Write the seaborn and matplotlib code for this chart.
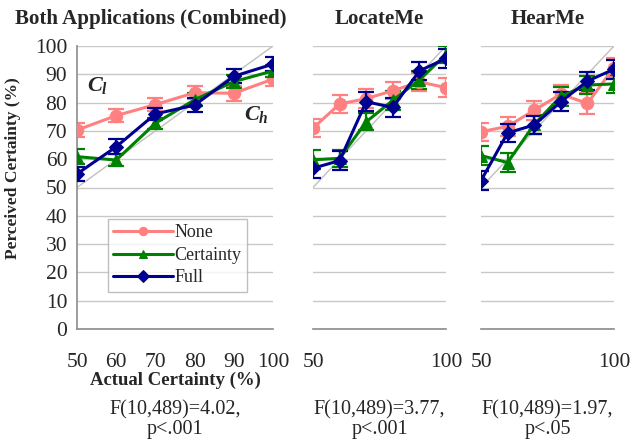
import numpy as np
import pandas as pd
import matplotlib
matplotlib.use("Agg")
import matplotlib.pyplot as plt
import seaborn as sns

actual = [50, 60, 70, 80, 90, 100]
conditions = ["None", "Certainty", "Full"]
panels = ["Both Applications (Combined)", "LocateMe", "HearMe"]
stats = ["F(10,489)=4.02,\np<.001", "F(10,489)=3.77,\np<.001", "F(10,489)=1.97,\np<.05"]

# perceived certainty means
combined_none = [70.3, 75.4, 79.3, 83.5, 83.3, 88.3]
combined_cert = [60.9, 59.7, 72.7, 81.0, 87.4, 91.2]
combined_full = [54.8, 64.4, 76.0, 79.1, 89.3, 93.6]
locate_none = [71.0, 79.5, 81.4, 84.2, 87.3, 85.3]
locate_cert = [59.8, 60.3, 73.2, 80.8, 88.0, 97.0]
locate_full = [56.8, 59.5, 80.3, 78.3, 91.2, 95.6]
hear_none = [69.7, 71.6, 77.3, 83.0, 79.7, 92.4]
hear_cert = [61.3, 58.8, 72.3, 82.2, 86.2, 86.6]
hear_full = [52.4, 69.3, 72.1, 80.3, 87.6, 91.8]

# error bar half-widths
combined_none_err = [2.4, 2.4, 2.4, 2.4, 2.6, 2.4]
combined_cert_err = [2.6, 2.1, 2.0, 2.3, 2.3, 2.2]
combined_full_err = [2.6, 2.6, 2.2, 2.4, 2.4, 2.4]
locate_none_err = [3.1, 3.3, 3.3, 3.0, 3.2, 3.4]
locate_cert_err = [3.4, 3.0, 3.0, 3.3, 3.3, 3.0]
locate_full_err = [3.3, 3.3, 3.3, 3.3, 3.3, 3.3]
hear_none_err = [3.2, 3.3, 3.3, 3.2, 3.7, 3.5]
hear_cert_err = [3.4, 3.3, 3.3, 3.3, 3.3, 3.3]
hear_full_err = [3.3, 3.3, 3.3, 3.3, 3.3, 3.3]

values = [
    [combined_none, combined_cert, combined_full],
    [locate_none, locate_cert, locate_full],
    [hear_none, hear_cert, hear_full],
]
errors = [
    [combined_none_err, combined_cert_err, combined_full_err],
    [locate_none_err, locate_cert_err, locate_full_err],
    [hear_none_err, hear_cert_err, hear_full_err],
]

colors = {"None": "#FF8080", "Certainty": "#008000", "Full": "#000090"}
markers = {"None": "o", "Certainty": "^", "Full": "D"}
msizes = {"None": 9, "Certainty": 8, "Full": 7}

sns.set_style("white")
plt.rcParams["font.family"] = "serif"
plt.rcParams["font.serif"] = ["Liberation Serif", "DejaVu Serif"]
plt.rcParams["mathtext.fontset"] = "custom"
plt.rcParams["mathtext.it"] = "Liberation Serif:italic:bold"
plt.rcParams["mathtext.rm"] = "Liberation Serif"

fig = plt.figure(figsize=(6.31, 4.45), dpi=100)
W, H = 631.0, 445.0
boxes = [(77, 273), (313, 446), (481, 614)]
title_x = [0.378, 0.5, 0.5]
top, bottom = 46, 329

for i in range(3):
    x0, x1 = boxes[i]
    ax = fig.add_axes([x0 / W, 1 - bottom / H, (x1 - x0) / W, (bottom - top) / H])
    rows = []
    for c, cond in enumerate(conditions):
        for a, v in zip(actual, values[i][c]):
            rows.append({"actual": a, "perceived": v, "cond": cond})
    df = pd.DataFrame(rows)

    ax.plot([50, 100], [50, 100], color="#c0c0c0", lw=1, zorder=1)
    for c, cond in enumerate(conditions):
        ax.errorbar(actual, values[i][c], yerr=errors[i][c], fmt="none",
                    ecolor=colors[cond], elinewidth=1.6, capsize=6, capthick=1.6, zorder=2 + c)
    for c, cond in enumerate(conditions):
        sns.lineplot(data=df[df["cond"] == cond], x="actual", y="perceived", ax=ax,
                     color=colors[cond], marker=markers[cond], markersize=msizes[cond],
                     markeredgecolor=colors[cond], lw=2.2, label=cond, zorder=3 + c,
                     legend=(i == 0))

    ax.set_xlim(50, 100)
    ax.set_ylim(0, 100)
    ax.set_yticks(np.arange(0, 101, 10))
    ax.set_xticks(actual)
    ax.grid(axis="y", color="#c8c8c8", lw=1)
    ax.set_axisbelow(True)
    for s in ["top", "right"]:
        ax.spines[s].set_visible(False)
    ax.spines["bottom"].set_color("#8c8c8c")
    ax.spines["bottom"].set_linewidth(1.2)
    ax.tick_params(axis="x", direction="out", length=5, width=1.2, color="#8c8c8c",
                   labelsize=15.5, pad=12)
    ax.set_xlabel("")
    ax.set_ylabel("")
    ax.set_title(panels[i], fontsize=15, fontweight="bold", pad=16, x=title_x[i])
    ax.text(0.5, -0.25, stats[i], transform=ax.transAxes, ha="center", va="top",
            fontsize=14.5, linespacing=1.1)
    if i == 0:
        ax.spines["left"].set_color("#8c8c8c")
        ax.spines["left"].set_linewidth(1.2)
        ax.tick_params(axis="y", direction="out", length=5, width=1.2, color="#8c8c8c",
                       labelsize=15.5, pad=2)
        ax.set_xticklabels([str(a) for a in actual])
        ax.set_ylabel("Perceived Certainty (%)", fontsize=12.5, fontweight="bold")
        ax.yaxis.set_label_coords(-0.285, 0.57)
        ax.set_xlabel("Actual Certainty (%)", fontsize=13.5, fontweight="bold", labelpad=0)
        ax.text(52.5, 84, r"$C_l$", fontsize=16)
        ax.text(92.5, 74, r"$C_h$", fontsize=16)
        leg = ax.legend(loc="lower left", bbox_to_anchor=(0.11, 0.1), frameon=True,
                        fontsize=13, handlelength=3.3, handletextpad=0.1,
                        borderpad=0.3, labelspacing=0.3, fancybox=False)
        leg.get_frame().set_edgecolor("#b0b0b0")
        leg.get_frame().set_linewidth(1)
        for h in leg.legend_handles:
            h.set_markersize(6)
    else:
        ax.spines["left"].set_visible(False)
        ax.tick_params(axis="y", length=0, labelleft=False)
        ax.set_xticklabels(["50", "", "", "", "", "100"])

fig.savefig("out.png", dpi=100)
